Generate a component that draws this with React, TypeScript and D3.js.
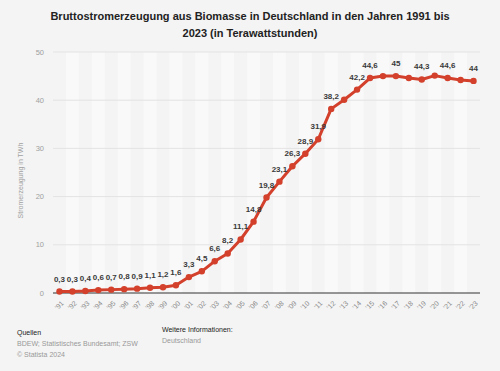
import * as d3 from "d3";
import React from "react";

const years = [
  "91", "92", "93", "94", "95", "96", "97", "98", "99", "00", "01",
  "02", "03", "04", "05", "06", "07", "08", "09", "10", "11", "12",
  "13", "14", "15", "16", "17", "18", "19", "20", "21", "22", "23",
];

const values = [
  0.3, 0.3, 0.4, 0.6, 0.7, 0.8, 0.9, 1.1, 1.2, 1.6, 3.3,
  4.5, 6.6, 8.2, 11.1, 14.8, 19.8, 23.1, 26.3, 28.9, 31.9, 38.2,
  40.1, 42.2, 44.6, 45.0, 45, 44.6, 44.3, 45.1, 44.6, 44.2, 44,
];

// which points carry a value label
const labelled = [
  1, 1, 1, 1, 1, 1, 1, 1, 1, 1, 1,
  1, 1, 1, 1, 1, 1, 1, 1, 1, 1, 1,
  0, 1, 1, 0, 1, 0, 1, 0, 1, 0, 1,
];

const yTicks = [0, 10, 20, 30, 40, 50];

const W = 500;
const H = 371;
const font = "'Liberation Sans', Arial, Helvetica, sans-serif";
const red = "#d3402b";

const fmt = d3.formatLocale({ decimal: ",", thousands: ".", grouping: [3], currency: ["", "€"] }).format(",.1~f");

export default function App() {
  const x = d3.scaleBand<string>().domain(years).range([53, 480]);
  const y = d3.scaleLinear().domain([0, 50]).range([293, 52]);
  const cx = (i: number) => (x(years[i]) ?? 0) + x.bandwidth() / 2;

  const line = d3
    .line<number>()
    .x((_, i) => cx(i))
    .y((d) => y(d));

  return (
    <svg width={W} height={H} style={{ position: "absolute", left: 0, top: 0, fontFamily: font }}>
      <rect width={W} height={H} fill="#f4f4f4" />
      <text x={W / 2} y={20} textAnchor="middle" fontSize={11} fontWeight="bold" fill="#222">
        Bruttostromerzeugung aus Biomasse in Deutschland in den Jahren 1991 bis
      </text>
      <text x={W / 2} y={37} textAnchor="middle" fontSize={11} fontWeight="bold" fill="#222">
        2023 (in Terawattstunden)
      </text>

      {years.map((yr, i) =>
        i % 2 === 1 ? (
          <rect key={yr} x={x(yr)} y={y(50)} width={x.bandwidth()} height={y(0) - y(50)} fill="#f9f9f9" />
        ) : null
      )}

      {yTicks.map((t) => (
        <g key={t}>
          {t > 0 && <line x1={53} x2={480} y1={y(t)} y2={y(t)} stroke="#e3e3e3" strokeWidth={1} />}
          <text x={44} y={y(t)} dy="0.35em" textAnchor="end" fontSize={7.5} fill="#a0a0a0">
            {t}
          </text>
        </g>
      ))}
      <line x1={53} x2={480} y1={y(0)} y2={y(0)} stroke="#333" strokeWidth={1} />

      <text
        transform={`translate(23, ${(y(0) + y(50)) / 2 + 8}) rotate(-90)`}
        textAnchor="middle"
        fontSize={7}
        fill="#a0a0a0"
      >
        Stromerzeugung in TWh
      </text>

      {years.map((yr, i) => (
        <text
          key={yr}
          transform={`translate(${cx(i) + 3}, ${y(0) + 9}) rotate(-45)`}
          textAnchor="end"
          dy="0.35em"
          fontSize={7}
          fill="#888"
        >
          {"'" + yr}
        </text>
      ))}

      <path d={line(values) ?? ""} fill="none" stroke={red} strokeWidth={3} strokeLinejoin="round" />
      {values.map((v, i) => (
        <circle key={i} cx={cx(i)} cy={y(v)} r={3.2} fill={red} />
      ))}
      {values.map((v, i) =>
        labelled[i] ? (
          <text
            key={"l" + i}
            x={cx(i)}
            y={y(v) - 10}
            textAnchor="middle"
            fontSize={8}
            fontWeight="bold"
            fill="#3a3a3a"
          >
            {fmt(v)}
          </text>
        ) : null
      )}

      <text x={17} y={335} fontSize={7} fill="#222">Quellen</text>
      <text x={17} y={346} fontSize={7} fill="#999">BDEW; Statistisches Bundesamt; ZSW</text>
      <text x={17} y={357} fontSize={7} fill="#999">© Statista 2024</text>
      <text x={162} y={332} fontSize={7} fill="#222">Weitere Informationen:</text>
      <text x={162} y={343} fontSize={7} fill="#999">Deutschland</text>
    </svg>
  );
}
